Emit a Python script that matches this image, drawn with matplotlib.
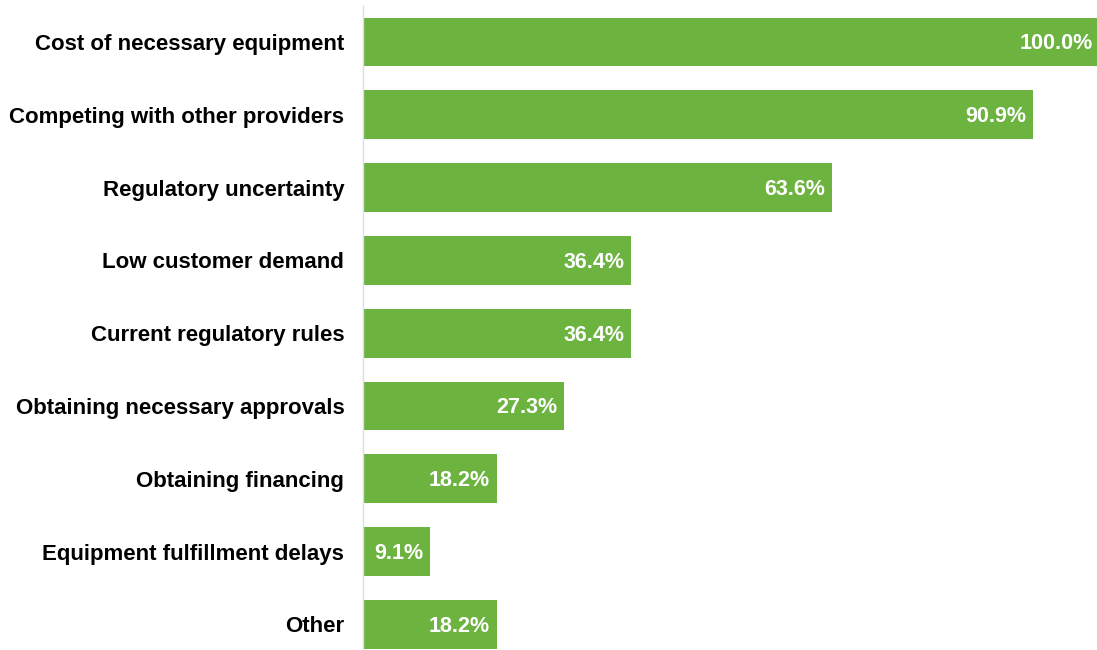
import matplotlib
matplotlib.use("Agg")
import matplotlib.pyplot as plt
from matplotlib.transforms import offset_copy

categories = [
    "Cost of necessary equipment",
    "Competing with other providers",
    "Regulatory uncertainty",
    "Low customer demand",
    "Current regulatory rules",
    "Obtaining necessary approvals",
    "Obtaining financing",
    "Equipment fulfillment delays",
    "Other",
]
shares = [100.0, 90.9, 63.6, 36.4, 36.4, 27.3, 18.2, 9.1, 18.2]

BAR_COLOR = "#6DB33F"

plt.rcParams["font.family"] = ["Liberation Sans", "DejaVu Sans"]

fig = plt.figure(figsize=(10.97, 6.5), dpi=100)
# plot area runs a little past the right edge, so the 100% bar gets cut
ax = fig.add_axes([363 / 1097, 0.0, 737 / 1097, 1 - 5.6 / 650])

pos = list(range(len(categories)))
ax.barh(pos, shares, height=0.67, color=BAR_COLOR)

label_tf = offset_copy(ax.transData, fig=fig, x=-7, y=-2, units="dots")
for y, v in zip(pos, shares):
    ax.text(v, y, f"{v:.1f}%", transform=label_tf, ha="right", va="center",
            color="white", fontsize=15.5, fontweight="bold")

ax.set_xlim(0, 100)
ax.set_ylim(8.352, -0.5)
ax.set_yticks(pos)
ax.set_yticklabels(categories, fontsize=16, fontweight="bold")
ax.tick_params(axis="y", length=0, pad=13.5)
ax.set_xticks([])

for side in ["top", "right", "bottom"]:
    ax.spines[side].set_visible(False)
ax.spines["left"].set_color("#D9DEE6")
ax.spines["left"].set_linewidth(1.0)

fig.savefig("out.png", dpi=100)
